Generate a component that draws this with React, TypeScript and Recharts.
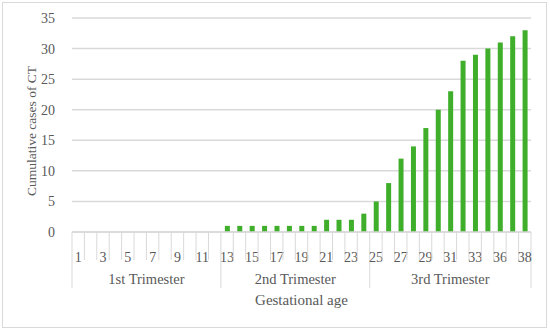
import React from "react";
import {
  BarChart,
  Bar,
  XAxis,
  YAxis,
  CartesianGrid,
} from "recharts";

// gestational week labels (one bar each)
const weeks = [
  "1", "2", "3", "4", "5", "6", "7", "8", "9", "10", "11", "12",
  "13", "14", "15", "16", "17", "18", "19", "20", "21", "22", "23", "24",
  "25", "26", "27", "28", "29", "30", "31", "32", "33", "35", "36", "37", "38",
];

// cumulative cases of CT per week
const cases = [
  0, 0, 0, 0, 0, 0, 0, 0, 0, 0, 0, 0,
  1, 1, 1, 1, 1, 1, 1, 1, 2, 2, 2, 3,
  5, 8, 12, 14, 17, 20, 23, 28, 29, 30, 31, 32, 33,
];

const trimesters = ["1st Trimester", "2nd Trimester", "3rd Trimester"];
const trimesterSizes = [12, 12, 13];

const yTicks = [0, 5, 10, 15, 20, 25, 30, 35];

const FONT = "'Liberation Serif', serif";
const TEXT = "#595959";
const LINE = "#d9d9d9";
const GREEN = "#3fae2a";

const data = weeks.map((w, i) => ({ week: w, cases: cases[i] }));

const groupStarts = trimesterSizes.map((_, i) =>
  trimesterSizes.slice(0, i).reduce((a, b) => a + b, 0)
);

function WeekTick(props: any) {
  const { x, y, payload, index, width } = props;
  const n = weeks.length;
  const band = width ? width / n : (payload?.offset ?? 6) * 2;
  const left = x - band / 2;
  const g = groupStarts.indexOf(index);
  return (
    <g>
      {g >= 0 ? (
        <>
          <line x1={left} x2={left} y1={y} y2={y + 56} stroke={LINE} />
          <text
            x={left + (trimesterSizes[g] * band) / 2}
            y={y + 52}
            textAnchor="middle"
            fill={TEXT}
            fontSize={14.5}
            fontFamily={FONT}
          >
            {trimesters[g]}
          </text>
        </>
      ) : (
        <line x1={left} x2={left} y1={y} y2={y + 28} stroke={LINE} />
      )}
      {index === n - 1 && (
        <line
          x1={x + band / 2}
          x2={x + band / 2}
          y1={y}
          y2={y + 56}
          stroke={LINE}
        />
      )}
      {index % 2 === 0 && (
        <text
          x={x}
          y={y + 30}
          textAnchor="middle"
          fill={TEXT}
          fontSize={14}
          fontFamily={FONT}
        >
          {payload.value}
        </text>
      )}
    </g>
  );
}

export default function App() {
  return (
    <div style={{ position: "relative", width: 550, height: 332 }}>
      <style>{`body{margin:0}`}</style>
      <div
        style={{
          position: "absolute",
          left: 2,
          top: 2,
          width: 545,
          height: 326,
          border: `1px solid ${LINE}`,
          boxSizing: "border-box",
        }}
      />
      <div style={{ position: "absolute", left: 0, top: 0 }}>
        <BarChart
          width={550}
          height={332}
          data={data}
          margin={{ top: 18, right: 19, bottom: 10, left: 0 }}
        >
          <CartesianGrid vertical={false} stroke={LINE} strokeWidth={1.5} />
          <XAxis
            dataKey="week"
            interval={0}
            height={90}
            tickSize={0}
            tickMargin={0}
            tickLine={false}
            axisLine={{ stroke: LINE, strokeWidth: 1.5 }}
            tick={<WeekTick />}
            label={{
              content: (p: any) => (
                <text
                  x={p.viewBox.x + p.viewBox.width / 2}
                  y={p.viewBox.y + 73}
                  textAnchor="middle"
                  fill={TEXT}
                  fontSize={15}
                  fontFamily={FONT}
                >
                  Gestational age
                </text>
              ),
            }}
          />
          <YAxis
            width={72}
            domain={[0, 35]}
            ticks={yTicks}
            axisLine={false}
            tickLine={false}
            tickMargin={11}
            tick={{ fill: TEXT, fontSize: 14, fontFamily: FONT }}
            label={{
              content: (p: any) => {
                const cx = p.viewBox.x + 31;
                const cy = p.viewBox.y + p.viewBox.height / 2 + 6;
                return (
                  <text
                    x={cx}
                    y={cy}
                    transform={`rotate(-90, ${cx}, ${cy})`}
                    textAnchor="middle"
                    dominantBaseline="central"
                    fill={TEXT}
                    fontSize={13.5}
                    fontFamily={FONT}
                  >
                    Cumulative cases of CT
                  </text>
                );
              },
            }}
          />
          <Bar
            dataKey="cases"
            fill={GREEN}
            barSize={5}
            isAnimationActive={false}
          />
        </BarChart>
      </div>
    </div>
  );
}
